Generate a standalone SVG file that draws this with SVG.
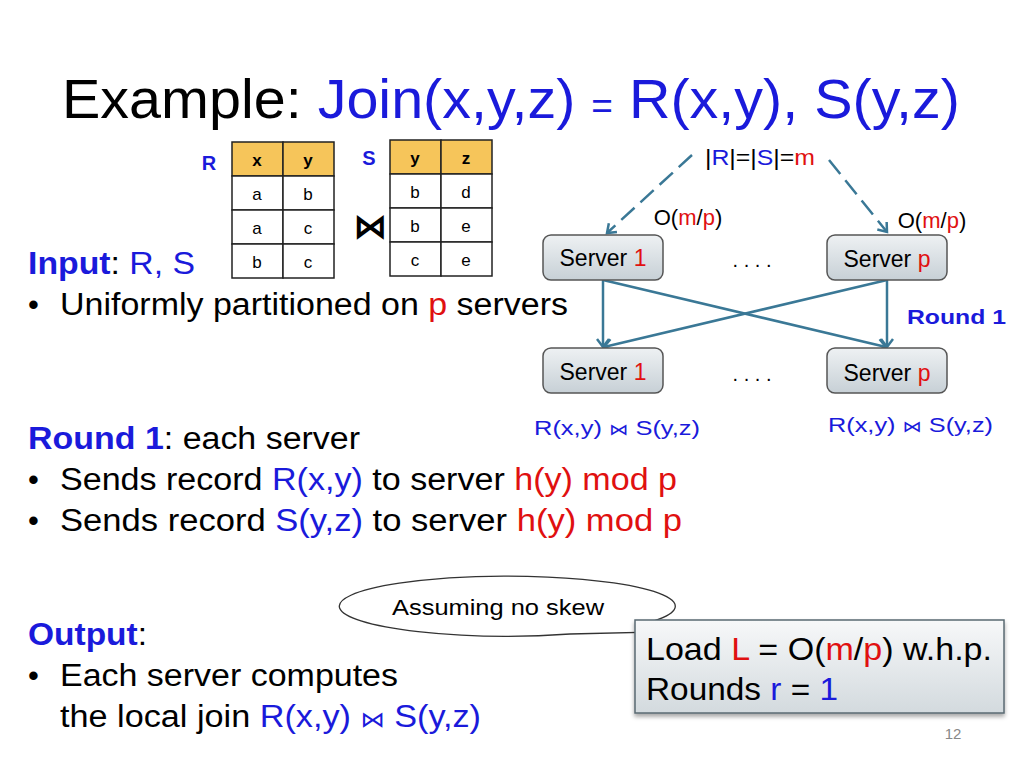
<svg xmlns="http://www.w3.org/2000/svg" width="1024" height="768" viewBox="0 0 1024 768">
<defs>
<style>
text{font-family:"Liberation Sans",Arial,sans-serif;fill:#000}
.b{fill:#1a1adb}.r{fill:#e01010}
.cell{fill:#fff;stroke:#222;stroke-width:1.5}
.hd{fill:#f6c55a;stroke:#222;stroke-width:1.5}
.ct{font-size:17px;text-anchor:middle}
.srv{stroke:#555;stroke-width:1.5}
.st{font-size:23px;text-anchor:middle}
.con{stroke:#3a7896;stroke-width:2.5;fill:none;marker-end:url(#ah)}
.dash{stroke-dasharray:18,8}
.bj{font-family:"DejaVu Sans",sans-serif}
</style>
<marker id="ah" markerWidth="14" markerHeight="14" refX="10" refY="7" orient="auto" markerUnits="userSpaceOnUse"><path d="M2,1 L10,7 L2,13" fill="none" stroke="#3a7896" stroke-width="2.5"/></marker>
<linearGradient id="sg" x1="0" y1="0" x2="0" y2="1"><stop offset="0" stop-color="#eef1f3"/><stop offset="1" stop-color="#c7d0d6"/></linearGradient>
<linearGradient id="bg" x1="0" y1="0" x2="0" y2="1"><stop offset="0" stop-color="#f7f8f9"/><stop offset="1" stop-color="#d3dade"/></linearGradient>
<filter id="sh" x="-10%" y="-10%" width="120%" height="130%"><feDropShadow dx="0" dy="3" stdDeviation="2" flood-opacity="0.35"/></filter>
</defs>
<rect width="1024" height="768" fill="#fff"/>
<g id="title"><text x="62" y="118" font-size="56" textLength="898" lengthAdjust="spacingAndGlyphs">Example: <tspan class="b">Join(x,y,z)</tspan> <tspan class="b" font-size="36">=</tspan> <tspan class="b">R(x,y), S(y,z)</tspan></text></g>
<g id="tableR">
<text x="209" y="170" font-size="20" font-weight="bold" class="b" text-anchor="middle">R</text>
<rect class="hd" x="232" y="142" width="51" height="34"/><rect class="hd" x="283" y="142" width="51" height="34"/>
<rect class="cell" x="232" y="176" width="51" height="34"/><rect class="cell" x="283" y="176" width="51" height="34"/>
<rect class="cell" x="232" y="210" width="51" height="34"/><rect class="cell" x="283" y="210" width="51" height="34"/>
<rect class="cell" x="232" y="244" width="51" height="34"/><rect class="cell" x="283" y="244" width="51" height="34"/>
<text class="ct" x="257" y="166" font-weight="bold">x</text><text class="ct" x="308" y="166" font-weight="bold">y</text>
<text class="ct" x="257" y="200">a</text><text class="ct" x="308" y="200">b</text>
<text class="ct" x="257" y="234">a</text><text class="ct" x="308" y="234">c</text>
<text class="ct" x="257" y="268">b</text><text class="ct" x="308" y="268">c</text>
</g>
<g id="join"><text x="370" y="238" font-size="34" font-weight="bold" text-anchor="middle" class="bj">⋈</text></g>
<g id="tableS">
<text x="369" y="165" font-size="20" font-weight="bold" class="b" text-anchor="middle">S</text>
<rect class="hd" x="390" y="140" width="51" height="34"/><rect class="hd" x="441" y="140" width="51" height="34"/>
<rect class="cell" x="390" y="174" width="51" height="34"/><rect class="cell" x="441" y="174" width="51" height="34"/>
<rect class="cell" x="390" y="208" width="51" height="34"/><rect class="cell" x="441" y="208" width="51" height="34"/>
<rect class="cell" x="390" y="242" width="51" height="34"/><rect class="cell" x="441" y="242" width="51" height="34"/>
<text class="ct" x="415" y="164" font-weight="bold">y</text><text class="ct" x="466" y="164" font-weight="bold">z</text>
<text class="ct" x="415" y="198">b</text><text class="ct" x="466" y="198">d</text>
<text class="ct" x="415" y="232">b</text><text class="ct" x="466" y="232">e</text>
<text class="ct" x="415" y="266">c</text><text class="ct" x="466" y="266">e</text>
</g>
<g id="input" font-size="31">
<text x="28" y="274" font-size="31" textLength="167" lengthAdjust="spacingAndGlyphs"><tspan class="b" font-weight="bold">Input</tspan>: <tspan class="b">R, S</tspan></text>
<text x="28" y="315" font-size="31">•</text>
<text x="60" y="315" font-size="31" textLength="508" lengthAdjust="spacingAndGlyphs">Uniformly partitioned on <tspan class="r">p</tspan> servers</text>
</g>
<g id="round1text">
<text x="28" y="449" font-size="31" textLength="332" lengthAdjust="spacingAndGlyphs"><tspan class="b" font-weight="bold">Round 1</tspan>: each server</text>
<text x="28" y="490" font-size="31">•</text>
<text x="60" y="490" font-size="31" textLength="617" lengthAdjust="spacingAndGlyphs">Sends record <tspan class="b">R(x,y)</tspan> to server <tspan class="r">h(y) mod p</tspan></text>
<text x="28" y="531" font-size="31">•</text>
<text x="60" y="531" font-size="31" textLength="622" lengthAdjust="spacingAndGlyphs">Sends record <tspan class="b">S(y,z)</tspan>  to server <tspan class="r">h(y) mod p</tspan></text>
</g>
<g id="output">
<text x="28" y="645" font-size="31" textLength="119" lengthAdjust="spacingAndGlyphs"><tspan class="b" font-weight="bold">Output</tspan>:</text>
<text x="28" y="686" font-size="31">•</text>
<text x="60" y="686" font-size="31" textLength="338" lengthAdjust="spacingAndGlyphs">Each server computes</text>
<text x="60" y="727" font-size="31" textLength="421" lengthAdjust="spacingAndGlyphs">the local join <tspan class="b">R(x,y) <tspan class="bj" font-size="22">⋈</tspan> S(y,z)</tspan></text>
</g>
<g id="mlabel"><text x="705" y="165" font-size="22" textLength="110" lengthAdjust="spacingAndGlyphs">|<tspan class="b">R</tspan>|=|<tspan class="b">S</tspan>|=<tspan class="r">m</tspan></text>
<text x="688" y="225" font-size="22" text-anchor="middle">O(<tspan class="r">m</tspan>/<tspan class="r">p</tspan>)</text>
<text x="932" y="228" font-size="22" text-anchor="middle">O(<tspan class="r">m</tspan>/<tspan class="r">p</tspan>)</text>
<text x="752" y="267" font-size="20" text-anchor="middle">. . . .</text>
<text x="752" y="381" font-size="20" text-anchor="middle">. . . .</text>
<text x="907" y="324" font-size="21" font-weight="bold" class="b" textLength="99" lengthAdjust="spacingAndGlyphs">Round 1</text>
<text x="534" y="435" font-size="21" class="b" textLength="166" lengthAdjust="spacingAndGlyphs">R(x,y) <tspan class="bj" font-size="16">⋈</tspan> S(y,z)</text>
<text x="828" y="432" font-size="21" class="b" textLength="165" lengthAdjust="spacingAndGlyphs">R(x,y) <tspan class="bj" font-size="16">⋈</tspan> S(y,z)</text>
</g>
<g id="connectors">
<path class="con dash" d="M692,155 L607,233"/>
<path class="con dash" d="M829,160 L887,232"/>
<path class="con" d="M603,280 L603,347"/>
<path class="con" d="M603,280 L886,347"/>
<path class="con" d="M887,280 L604,347"/>
<path class="con" d="M887,280 L887,347"/>
</g>
<g id="server1top"><rect class="srv" x="543" y="235" width="120" height="45" rx="8" fill="url(#sg)"/><text class="st" x="603" y="266">Server <tspan class="r">1</tspan></text></g>
<g id="serverptop"><rect class="srv" x="827" y="235" width="120" height="45" rx="8" fill="url(#sg)"/><text class="st" x="887" y="267">Server <tspan class="r">p</tspan></text></g>
<g id="server1bot"><rect class="srv" x="543" y="348" width="120" height="45" rx="8" fill="url(#sg)"/><text class="st" x="603" y="380">Server <tspan class="r">1</tspan></text></g>
<g id="serverpbot"><rect class="srv" x="827" y="348" width="120" height="45" rx="8" fill="url(#sg)"/><text class="st" x="887" y="381">Server <tspan class="r">p</tspan></text></g>
<g id="callout">
<path d="M650,622 A168,30 0 1 0 570,634 L660,632 Z" fill="#fff" stroke="#333" stroke-width="1.3"/>
<text x="392" y="615" font-size="22" textLength="212" lengthAdjust="spacingAndGlyphs">Assuming no skew</text>
</g>
<g id="loadbox">
<rect x="635" y="620" width="369" height="93" fill="url(#bg)" stroke="#5a6a72" stroke-width="1.5" filter="url(#sh)"/>
<text x="646" y="660" font-size="32" textLength="346" lengthAdjust="spacingAndGlyphs">Load <tspan class="r">L</tspan> = O(<tspan class="r">m</tspan>/<tspan class="r">p</tspan>) w.h.p.</text>
<text x="646" y="700" font-size="32" textLength="192" lengthAdjust="spacingAndGlyphs">Rounds <tspan class="b">r</tspan> = <tspan class="b">1</tspan></text>
</g>
<text x="953" y="739" font-size="15" text-anchor="middle" style="fill:#888">12</text>
</svg>
